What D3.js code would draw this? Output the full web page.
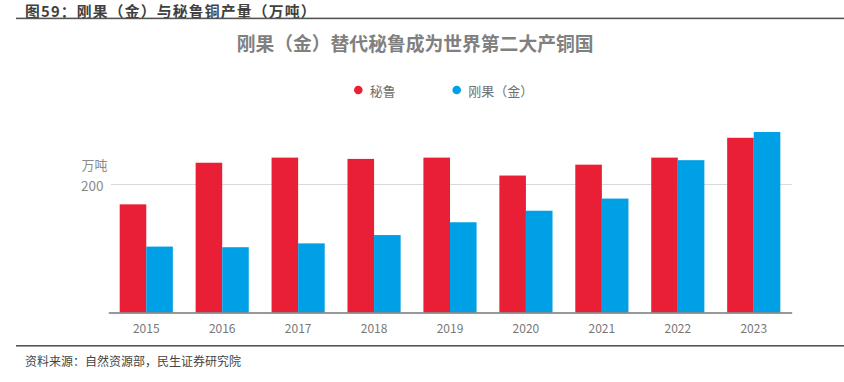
<!DOCTYPE html>
<html><head><meta charset="utf-8">
<script src="https://cdn.jsdelivr.net/npm/d3@7"></script>
<style>
html,body{margin:0;padding:0;background:#fff;}
text{font-family:"Noto Sans CJK SC","Noto Sans",sans-serif;}
</style></head>
<body>
<svg id="c" width="844" height="382"></svg>
<script>
const years = ["2015","2016","2017","2018","2019","2020","2021","2022","2023"];
const peru = [169, 234, 242, 240, 242, 214, 231, 242, 273];
const drc = [103, 102, 108, 121, 141, 159, 178, 238, 282];
const seriesNames = ["秘鲁", "刚果（金）"];
const yTicks = [200];
const colors = ["#e92035", "#00a0e6"];

const svg = d3.select("#c");

// header
svg.append("text").attr("x", 25).attr("y", 17.2)
  .attr("font-size", 14.8).attr("font-weight", 700).attr("fill", "#404040")
  .attr("letter-spacing", 1.2)
  .text("图59：刚果（金）与秘鲁铜产量（万吨）");
svg.append("rect").attr("x", 16).attr("y", 17.6).attr("width", 828).attr("height", 1.6).attr("fill", "#555");

// title
svg.append("text").attr("x", 236.7).attr("y", 42).attr("dominant-baseline", "central")
  .attr("font-size", 18.8).attr("font-weight", 700).attr("fill", "#808080")
  .text("刚果（金）替代秘鲁成为世界第二大产铜国");

// scales
const x0 = d3.scaleBand().domain(years).range([108.3, 791.7]).paddingInner(0.3).paddingOuter(0.15);
const x1 = d3.scaleBand().domain([0, 1]).range([0, x0.bandwidth()]);
const y = d3.scaleLinear().domain([0, 300]).range([312.5, 120.5]);

// grid
const grid = svg.append("g");
grid.selectAll("line").data(yTicks).join("line")
  .attr("x1", 111).attr("x2", 791.7)
  .attr("y1", d => y(d)).attr("y2", d => y(d))
  .attr("stroke", "#d9d9d9").attr("stroke-width", 1.2);
grid.selectAll("text").data(yTicks).join("text")
  .attr("x", 103.5).attr("y", d => y(d)).attr("text-anchor", "end")
  .attr("dominant-baseline", "central").attr("font-size", 13.5).attr("fill", "#8a8a8a")
  .text(d => d);
svg.append("text").attr("x", 81.5).attr("y", 164).attr("dominant-baseline", "central")
  .attr("font-size", 13).attr("fill", "#8a8a8a").text("万吨");

// bars
const data = years.map((yr, i) => ({yr, vals: [peru[i], drc[i]]}));
const groups = svg.append("g").selectAll("g").data(data).join("g")
  .attr("transform", d => `translate(${x0(d.yr)},0)`);
groups.selectAll("rect").data(d => d.vals.map((v, k) => ({v, k}))).join("rect")
  .attr("x", d => x1(d.k)).attr("width", x1.bandwidth())
  .attr("y", d => y(d.v)).attr("height", d => y(0) - y(d.v))
  .attr("fill", d => colors[d.k]);

// x axis
const xAxis = svg.append("g").attr("transform", `translate(0,${y(0)})`)
  .call(d3.axisBottom(x0).tickSize(0).tickPadding(0));
xAxis.select(".domain").attr("stroke", "#777").attr("stroke-width", 1.6);
xAxis.selectAll("text").attr("y", 15).attr("dy", 0).attr("dominant-baseline", "central")
  .attr("font-size", 12).attr("fill", "#777")
  .attr("font-family", "\"Noto Sans CJK SC\",sans-serif");

// legend
const legX = [358.3, 456.7];
const leg = svg.append("g").selectAll("g").data(seriesNames).join("g");
leg.append("circle").attr("cx", (d, i) => legX[i]).attr("cy", 90).attr("r", 4.3)
  .attr("fill", (d, i) => colors[i]);
leg.append("text").attr("x", (d, i) => legX[i] + 11.5).attr("y", 90)
  .attr("dominant-baseline", "central").attr("font-size", 13).attr("fill", "#707070")
  .text(d => d);

// footer
svg.append("rect").attr("x", 16).attr("y", 345).attr("width", 828).attr("height", 1.6).attr("fill", "#555");
svg.append("text").attr("x", 25).attr("y", 360.5).attr("dominant-baseline", "central")
  .attr("font-size", 12).attr("fill", "#444")
  .text("资料来源：自然资源部，民生证券研究院");
</script>
</body></html>
